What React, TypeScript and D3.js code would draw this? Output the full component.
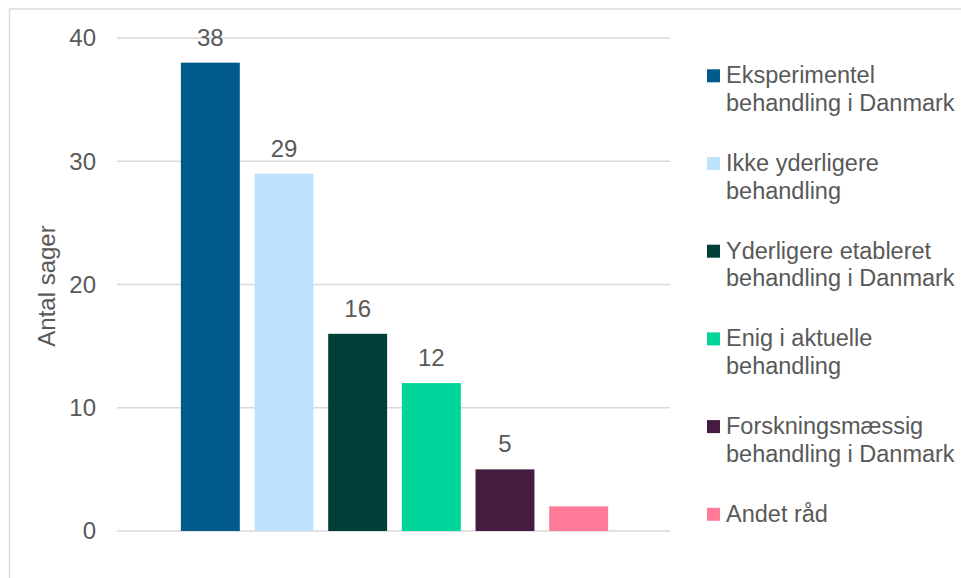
import React from "react";
import * as d3 from "d3";

const series = [
  "Eksperimentel behandling i Danmark",
  "Ikke yderligere behandling",
  "Yderligere etableret behandling i Danmark",
  "Enig i aktuelle behandling",
  "Forskningsmæssig behandling i Danmark",
  "Andet råd",
];
const legendLines = [
  ["Eksperimentel", "behandling i Danmark"],
  ["Ikke yderligere", "behandling"],
  ["Yderligere etableret", "behandling i Danmark"],
  ["Enig i aktuelle", "behandling"],
  ["Forskningsmæssig", "behandling i Danmark"],
  ["Andet råd"],
];
const values = [38, 29, 16, 12, 5, 2];
const showLabel = [true, true, true, true, true, false];
const colors = ["#005A8C", "#BFE3FD", "#003F37", "#00D69B", "#441C3F", "#FF7A96"];
const yTicks = [0, 10, 20, 30, 40];

const FONT = "Arial, 'Liberation Sans', sans-serif";
const TXT = "#595959";

export default function App() {
  const y = d3.scaleLinear().domain([0, 40]).range([531, 38]);
  const x = d3.scaleBand<string>().domain(series).range([173.5, 615.5]).paddingInner(0.2).paddingOuter(0.1);
  const gridX0 = 117;
  const gridX1 = 670;
  const legX = 707;
  const legY0 = 83.3;
  const legStep = 87.7;
  const lineH = 27.5;

  return (
    <svg width={961} height={578} style={{ position: "absolute", left: 0, top: 0, background: "#fff" }} fontFamily={FONT}>
      <rect x={0} y={0} width={961} height={578} fill="#fff" />
      <rect x={9.5} y={9} width={1200} height={1200} fill="none" stroke="#d9d9d9" strokeWidth={1.5} />
      {yTicks.map((t) => (
        <g key={t}>
          <line x1={gridX0} x2={gridX1} y1={y(t)} y2={y(t)} stroke="#d9d9d9" strokeWidth={1.5} />
          <text x={96} y={y(t)} dy="0.35em" textAnchor="end" fontSize={24} fill={TXT}>
            {t}
          </text>
        </g>
      ))}
      <text
        transform={`translate(55, 286) rotate(-90)`}
        textAnchor="middle"
        fontSize={24}
        fill={TXT}
      >
        Antal sager
      </text>
      {series.map((s, i) => (
        <g key={s}>
          <rect x={x(s)} y={y(values[i])} width={x.bandwidth()} height={y(0) - y(values[i])} fill={colors[i]} />
          {showLabel[i] && (
            <text x={(x(s) as number) + x.bandwidth() / 2} y={y(values[i]) - 17} textAnchor="middle" fontSize={24} fill={TXT}>
              {values[i]}
            </text>
          )}
        </g>
      ))}
      {legendLines.map((lines, i) => {
        const by = legY0 + i * legStep;
        return (
          <g key={i}>
            <rect x={legX} y={by - 14} width={13} height={13} fill={colors[i]} />
            {lines.map((ln, j) => (
              <text key={j} x={legX + 19} y={by + j * lineH} fontSize={23.5} fill={TXT}>
                {ln}
              </text>
            ))}
          </g>
        );
      })}
    </svg>
  );
}
